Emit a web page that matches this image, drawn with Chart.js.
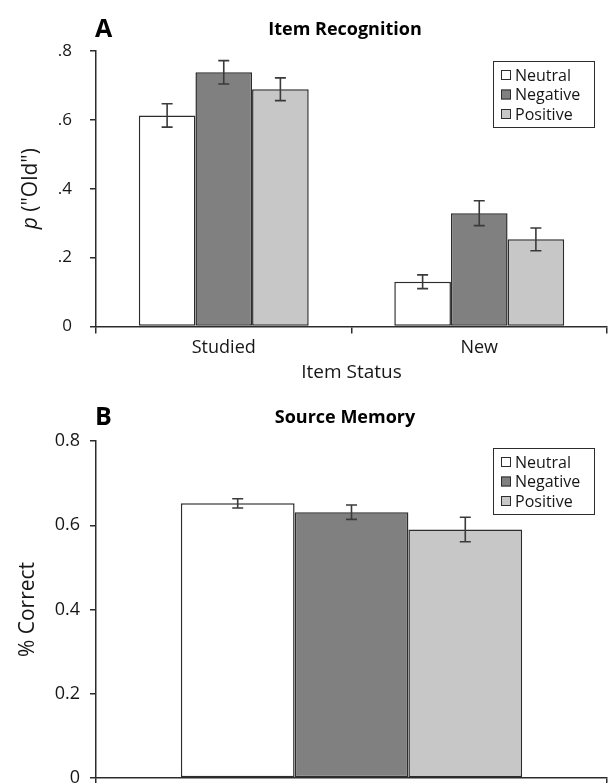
<!DOCTYPE html>
<html lang="en">
<head>
<meta charset="UTF-8">
<title>Item Recognition / Source Memory</title>
<script src="https://cdn.jsdelivr.net/npm/chart.js"></script>
<style>
  html, body { margin: 0; padding: 0; background: #fff; overflow: hidden; }
  .panel { position: absolute; left: 0; width: 613px; }
  #panelA { top: 0; height: 384px; }
  #panelB { top: 384px; height: 420px; }
</style>
</head>
<body>
<div class="panel" id="panelA"><canvas id="chartA"></canvas></div>
<div class="panel" id="panelB"><canvas id="chartB"></canvas></div>
<script>
const seriesNames = ['Neutral', 'Negative', 'Positive'];
const seriesColors = ['#ffffff', '#808080', '#c6c7c6'];

// A - item recognition, p("Old") by item status
const statusLabels = ['Studied', 'New'];
const neutralOld = [0.613, 0.130];
const negativeOld = [0.738, 0.329];
const positiveOld = [0.689, 0.253];
const neutralOldErr = [0.034, 0.020];
const negativeOldErr = [0.034, 0.036];
const positiveOldErr = [0.033, 0.033];
const ticksA = [0, 0.2, 0.4, 0.6, 0.8];

// B - source memory, % correct
const sourceLabels = [''];
const neutralSource = [0.652];
const negativeSource = [0.631];
const positiveSource = [0.590];
const neutralSourceErr = [0.011];
const negativeSourceErr = [0.017];
const positiveSourceErr = [0.029];
const ticksB = [0, 0.2, 0.4, 0.6, 0.8];

const FONT = '"Open Sans", "Noto Sans", sans-serif';
const INK = '#161616';
const LINE = '#2c2c2c';
Chart.defaults.font.family = FONT;
Chart.defaults.color = INK;

// error bars drawn from each dataset's "errors" array
const errorBars = {
  id: 'errorBars',
  afterDatasetsDraw(chart, args, o) {
    const ctx = chart.ctx;
    const y = chart.scales.y;
    ctx.save();
    ctx.strokeStyle = '#3a3a3a';
    ctx.lineWidth = 1.6;
    chart.data.datasets.forEach((ds, i) => {
      chart.getDatasetMeta(i).data.forEach((bar, j) => {
        const v = ds.data[j], e = ds.errors[j];
        const top = y.getPixelForValue(v + e);
        const bot = y.getPixelForValue(v - e);
        const w = o.cap / 2;
        ctx.beginPath();
        ctx.moveTo(bar.x, top); ctx.lineTo(bar.x, bot);
        ctx.moveTo(bar.x - w, top); ctx.lineTo(bar.x + w, top);
        ctx.moveTo(bar.x - w, bot); ctx.lineTo(bar.x + w, bot);
        ctx.stroke();
      });
    });
    ctx.restore();
  }
};

// legend inside a framed box, like the original figure
const boxLegend = {
  id: 'boxLegend',
  afterDraw(chart, args, o) {
    const ctx = chart.ctx;
    const left = o.left, top = chart.chartArea.top + o.offsetTop;
    ctx.save();
    ctx.fillStyle = '#fff';
    ctx.fillRect(left, top, o.width, o.height);
    ctx.strokeStyle = LINE;
    ctx.lineWidth = 1;
    ctx.strokeRect(left + 0.5, top + 0.5, o.width, o.height);
    ctx.font = o.fontSize + 'px ' + FONT;
    ctx.textBaseline = 'middle';
    chart.data.datasets.forEach((ds, i) => {
      const cy = top + 14 + i * 19.5;
      ctx.fillStyle = ds.backgroundColor;
      ctx.fillRect(left + 8, cy - 5, 10, 10);
      ctx.strokeRect(left + 8.5, cy - 4.5, 9, 9);
      ctx.fillStyle = INK;
      ctx.fillText(ds.label, left + 22, cy + 1);
    });
    ctx.restore();
  }
};

// panel letter, bold heading and the rotated y title (parts may be italic)
const headings = {
  id: 'headings',
  afterDraw(chart, args, o) {
    const ctx = chart.ctx;
    const area = chart.chartArea;
    ctx.save();
    ctx.fillStyle = '#000';
    ctx.textBaseline = 'middle';
    ctx.font = 'bold 25px ' + FONT;
    ctx.fillText(o.letter, 95, o.y);
    ctx.font = 'bold 18px ' + FONT;
    ctx.textAlign = 'center';
    ctx.fillText(o.title, 345, o.y);

    ctx.fillStyle = INK;
    ctx.textAlign = 'left';
    ctx.translate(o.yTitleX, (area.top + area.bottom) / 2);
    ctx.rotate(-Math.PI / 2);
    const fonts = o.yTitle.map(p => (p[1] ? 'italic ' : '') + o.yTitleSize + 'px ' + FONT);
    let total = 0;
    o.yTitle.forEach((p, i) => { ctx.font = fonts[i]; total += ctx.measureText(p[0]).width; });
    let x = -total / 2;
    o.yTitle.forEach((p, i) => {
      ctx.font = fonts[i];
      ctx.fillText(p[0], x, 0);
      x += ctx.measureText(p[0]).width;
    });
    ctx.restore();
  }
};

function makeDatasets(values, errors) {
  return seriesNames.map((name, i) => ({
    label: name,
    data: values[i],
    errors: errors[i],
    backgroundColor: seriesColors[i],
    borderColor: LINE,
    borderWidth: 1.5,
    borderSkipped: false
  }));
}

function axisLines() {
  return {
    grid: { drawOnChartArea: false, tickLength: 6, color: LINE, lineWidth: 1.5 },
    border: { color: LINE, width: 1.5 }
  };
}

new Chart(document.getElementById('chartA'), {
  type: 'bar',
  data: {
    labels: statusLabels,
    datasets: makeDatasets([neutralOld, negativeOld, positiveOld],
                           [neutralOldErr, negativeOldErr, positiveOldErr])
  },
  options: {
    responsive: true,
    maintainAspectRatio: false,
    animation: false,
    layout: { padding: { top: 51, right: 6, bottom: 0, left: 0 } },
    datasets: { bar: { categoryPercentage: 0.665, barPercentage: 1 } },
    scales: {
      x: {
        ...axisLines(),
        grid: { offset: true, drawOnChartArea: false, tickLength: 7, color: LINE, lineWidth: 1.5 },
        ticks: { font: { size: 18 }, padding: 4 },
        title: { display: true, text: 'Item Status', font: { size: 19 }, padding: 0 },
        afterFit(s) { s.height = 57.5; }
      },
      y: {
        ...axisLines(),
        min: 0, max: 0.8,
        afterBuildTicks(s) { s.ticks = ticksA.map(v => ({ value: v })); },
        ticks: {
          font: { size: 17 },
          padding: 18,
          callback: v => v === 0 ? '0' : v.toFixed(1).replace(/^0/, '')
        },
        afterFit(s) { s.width = 96; }
      }
    },
    plugins: {
      legend: { display: false },
      tooltip: { enabled: false },
      errorBars: { cap: 11 },
      boxLegend: { left: 493, offsetTop: 10, width: 101, height: 66, fontSize: 16 },
      headings: { letter: 'A', title: 'Item Recognition', y: 30, yTitleX: 31, yTitleSize: 21,
                  yTitle: [['p', true], [' ("Old")', false]] }
    }
  },
  plugins: [errorBars, boxLegend, headings]
});

new Chart(document.getElementById('chartB'), {
  type: 'bar',
  data: {
    labels: sourceLabels,
    datasets: makeDatasets([neutralSource, negativeSource, positiveSource],
                           [neutralSourceErr, negativeSourceErr, positiveSourceErr])
  },
  options: {
    responsive: true,
    maintainAspectRatio: false,
    animation: false,
    layout: { padding: { top: 57, right: 6, bottom: 0, left: 0 } },
    datasets: { bar: { categoryPercentage: 0.668, barPercentage: 1 } },
    scales: {
      x: {
        ...axisLines(),
        grid: { offset: true, drawOnChartArea: false, tickLength: 7, color: LINE, lineWidth: 1.5 },
        ticks: { font: { size: 18 } },
        afterFit(s) { s.height = 26; }
      },
      y: {
        ...axisLines(),
        min: 0, max: 0.8,
        afterBuildTicks(s) { s.ticks = ticksB.map(v => ({ value: v })); },
        ticks: {
          font: { size: 18 },
          padding: 10,
          callback: v => v === 0 ? '0' : v.toFixed(1)
        },
        afterFit(s) { s.width = 96; }
      }
    },
    plugins: {
      legend: { display: false },
      tooltip: { enabled: false },
      errorBars: { cap: 11 },
      boxLegend: { left: 493, offsetTop: 7, width: 101, height: 66, fontSize: 16 },
      headings: { letter: 'B', title: 'Source Memory', y: 34, yTitleX: 28, yTitleSize: 21,
                  yTitle: [['% Correct', false]] }
    }
  },
  plugins: [errorBars, boxLegend, headings]
});
</script>
</body>
</html>
